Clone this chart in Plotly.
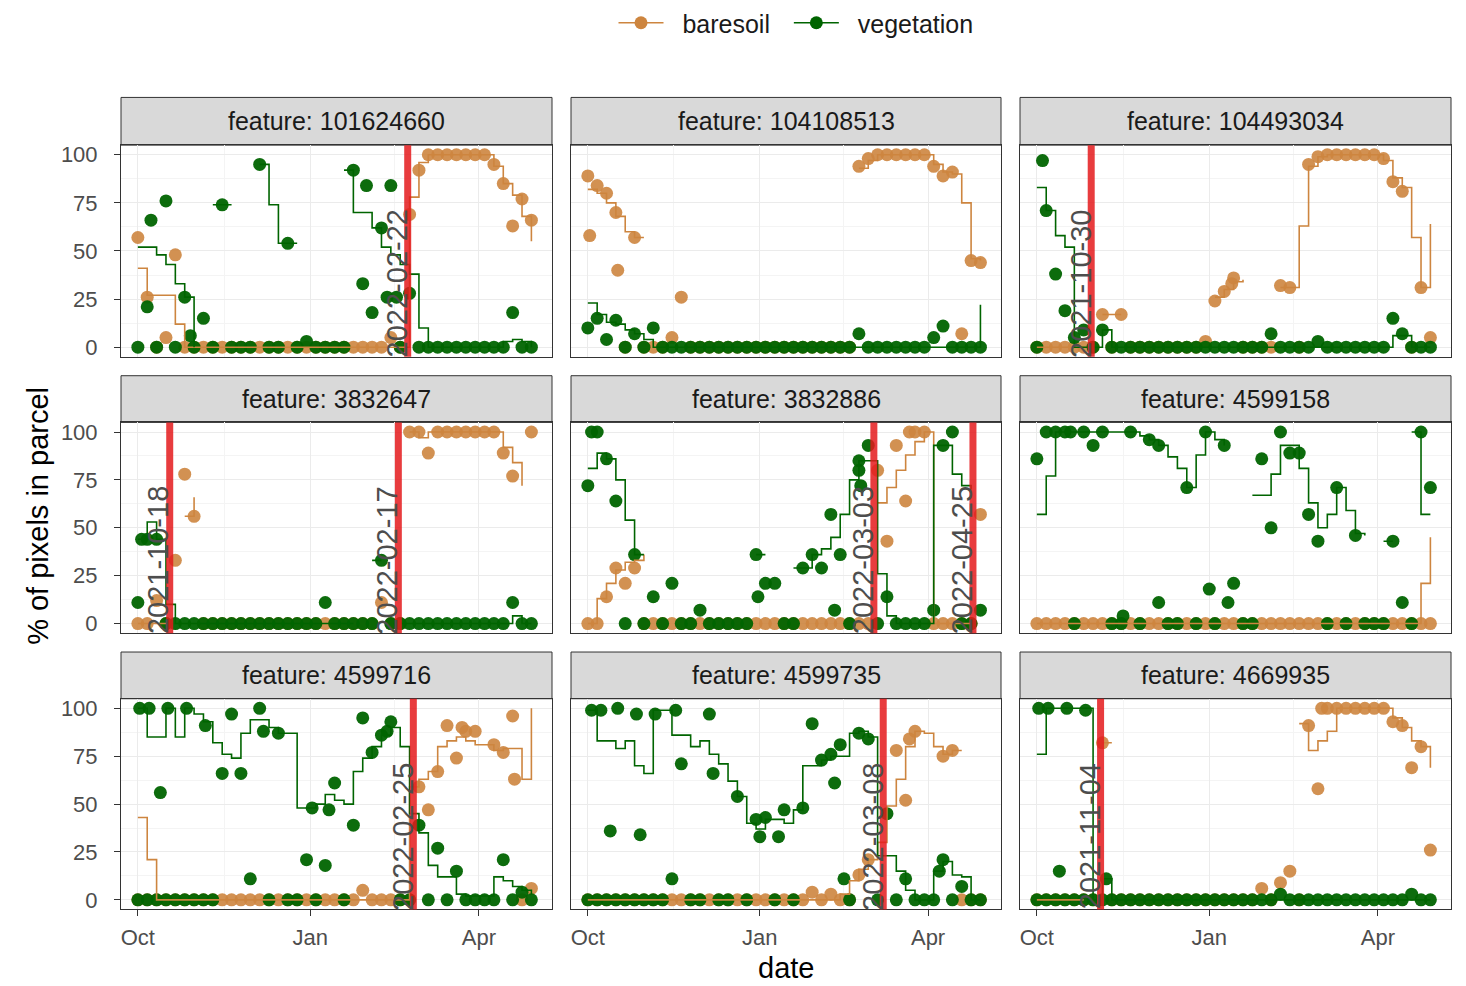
import pandas as pd
import plotly.graph_objects as go

N = None
START = "2021-10-01"
# acquisition grid: days since START
OBS_DAYS = [0, 5, 10, 15, 20, 25, 30, 35, 40, 45, 50, 55, 60, 65, 70, 75, 80, 85, 90, 95,
            100, 105, 110, 115, 120, 125, 130, 135, 140, 145, 150, 155, 160, 165, 170, 175,
            180, 185, 190, 195, 200, 205, 210]

FEATURES = ["101624660", "104108513", "104493034", "3832647", "3832886",
            "4599158", "4599716", "4599735", "4669935"]
SERIES_NAMES = ["baresoil", "vegetation"]

X_TICK_DATES = ["2021-10-01", "2022-01-01", "2022-04-01"]
X_TICK_LABELS = ["Oct", "Jan", "Apr"]
X_MINOR_DATES = ["2021-11-16", "2022-02-15"]
Y_TICKS = [0, 25, 50, 75, 100]
Y_MINOR = [12.5, 37.5, 62.5, 87.5]
X_RANGE = ["2021-09-22", "2022-05-10"]

# ---------- feature 101624660 ----------
BARE_1 = [57, 26, 0, 5, 48, 0, 0, 0, 0, 0, 0, 0, 0, 0, 0, 0, 0, 0, 0, 0,
          0, 0, 0, 0, 0, 0, 0, 5, 0, 69, 92, 100, 100, 100, 100, 100, 100, 100, 95, 85,
          63, 77, 66]
BARE_LINE_1 = [41, 27, 27, 27, 12, 0, 0, 0, 0, 0, 0, 0, 0, 0, 0, 0, 0, 0, 0, 0,
               0, 0, 0, 0, 0, 0, 0, 0, 0, 78, 96, 100, 100, 100, 100, 100, 100, 100, 94, 85,
               79, 68, 55]
BARE_X_DAYS_1, BARE_X_VALS_1 = [], []
VEG_1 = [0, 21, 0, 76, 0, 26, 0, 15, 0, 74, 0, 0, 0, 95, 0, 0, 54, 0, 3, 0,
         0, 0, 0, 92, 33, 18, 62, 84, 0, 28, 0, 0, 0, 0, 0, 0, 0, 0, 0, 0,
         18, 0, 0]
VEG_LINE_1 = [52, 52, 48, 43, 33, 26, 0, N, 74, 74, 74, N, N, 95, 74, 54, 54, 54, N, N,
              N, N, 92, 70, 70, 62, 52, 48, 43, 38, 10, 0, 0, 0, 0, 0, 0, 0, 0, 3,
              4, 3, 0]
VEG_X_DAYS_1 = [7, 122, 133, 138, 28]
VEG_X_VALS_1 = [66, 84, 26, 26, 6]
EVENTS_1 = ["2022-02-22"]

# ---------- feature 104108513 ----------
BARE_2 = [89, 84, 80, 70, 0, 57, 0, 0, 0, 5, 26, 0, 0, 0, 0, 0, 0, 0, 0, 0,
          0, 0, 0, 0, 0, 0, 0, 0, 0, 94, 98, 100, 100, 100, 100, 100, 100, 94, 89, 91,
          7, 45, 44]
BARE_LINE_2 = [82, 80, 75, 68, 60, 57, 57, N, N, N, N, N, N, N, N, N, N, N, N, N,
               N, N, N, N, N, N, N, N, N, 93, 97, 100, 100, 100, 100, 100, 100, 95, 91, 90,
               75, 46, 45]
BARE_X_DAYS_2 = [1, 16]
BARE_X_VALS_2 = [58, 40]
VEG_2 = [10, 15, 4, 14, 0, 7, 0, 10, 0, 0, 0, 0, 0, 0, 0, 0, 0, 0, 0, 0,
         0, 0, 0, 0, 0, 0, 0, 0, 0, 7, 0, 0, 0, 0, 0, 0, 0, 5, 11, 0,
         0, 0, 0]
VEG_LINE_2 = [23, 17, 13, 12, 9, 7, 4, 0, 0, 0, 0, 0, 0, 0, 0, 0, 0, 0, 0, 0,
              0, 0, 0, 0, 0, 0, 0, 0, 0, 0, 0, 0, 0, 0, 0, 0, 0, 0, 0, 0,
              0, 0, 22]
VEG_X_DAYS_2, VEG_X_VALS_2 = [], []
EVENTS_2 = []

# ---------- feature 104493034 ----------
BARE_3 = [0, 0, 0, 0, 0, 0, 0, 17, 0, 17, 0, 0, 0, 0, 0, 0, 0, 0, 3, 24,
          29, 36, 0, 0, 0, 0, 32, 31, 0, 95, 99, 100, 100, 100, 100, 100, 100, 98, 86, 81,
          0, 31, 5]
BARE_LINE_3 = [0, 0, 0, 0, 0, 0, N, 17, 17, 17, N, N, N, N, N, N, N, N, N, 26,
               30, 34, 35, N, N, N, 31, 31, 63, 94, 99, 100, 100, 100, 100, 100, 100, 97, 88, 83,
               57, 31, 64]
BARE_X_DAYS_3 = [104]
BARE_X_VALS_3 = [33]
VEG_3 = [0, 71, 38, 19, 5, 9, 0, 9, 0, 0, 0, 0, 0, 0, 0, 0, 0, 0, 0, 0,
         0, 0, 0, 0, 0, 7, 0, 0, 0, 0, 3, 0, 0, 0, 0, 0, 0, 0, 15, 7,
         0, 0, 0]
VEG_LINE_3 = [83, 71, 58, 52, 0, 0, 0, 9, 0, 0, 0, 0, 0, 0, 0, 0, 0, 0, 0, 0,
              0, 0, 0, 0, 0, 0, 0, 0, 0, 0, 0, 0, 0, 0, 0, 0, 0, 0, 6, 6,
              0, 0, 0]
VEG_X_DAYS_3 = [3]
VEG_X_VALS_3 = [97]
EVENTS_3 = ["2021-10-30"]

# ---------- feature 3832647 ----------
BARE_4 = [0, 0, 12, 0, 33, 78, 56, 0, 0, 0, 0, 0, 0, 0, 0, 0, 0, 0, 0, 0,
          0, 0, 0, 0, 0, 0, 11, 0, 0, 100, 100, 89, 100, 100, 100, 100, 100, 100, 100, 89,
          77, N, 100]
BARE_LINE_4 = [0, 0, 0, 0, N, 56, 66, N, N, N, N, N, N, N, N, N, N, N, N, N,
               N, N, N, N, N, N, N, N, N, 100, 97, 100, 100, 100, 100, 100, 100, 100, 100, 92,
               84, 72, N]
BARE_X_DAYS_4, BARE_X_VALS_4 = [], []
VEG_4 = [11, 44, 44, 0, 0, 0, 0, 0, 0, 0, 0, 0, 0, 0, 0, 0, 0, 0, 0, 0,
         11, 0, 0, 0, 0, 0, 33, 0, 0, 0, 0, 0, 0, 0, 0, 0, 0, 0, 0, 0,
         11, 0, 0]
VEG_LINE_4 = [44, 53, 44, 10, 0, 0, 0, 0, 0, 0, 0, 0, 0, 0, 0, 0, 0, 0, 0, 0,
              0, 0, 0, 0, N, 33, 33, N, 0, 0, 0, 0, 0, 0, 0, 0, 0, 0, 0, 0,
              4, 0, 0]
VEG_X_DAYS_4 = [2]
VEG_X_VALS_4 = [44]
EVENTS_4 = ["2021-10-18", "2022-02-17"]

# ---------- feature 3832886 ----------
BARE_5 = [0, 0, 14, 29, 21, 29, 0, 0, 0, 0, 0, 0, 0, 0, 0, 0, 0, 0, 0, 0,
          0, 0, 0, 0, 0, 0, 0, 0, 0, 0, 0, 80, 43, 93, 64, 100, 100, 0, 0, 0,
          0, 0, 57]
BARE_LINE_5 = [0, 13, 21, 28, 32, 33, 36, N, N, N, N, N, N, N, N, N, N, N, N, N,
               N, N, N, N, N, N, N, N, N, N, N, 63, 71, 80, 88, 95, 100, 0, 0, 0,
               0, 0, N]
BARE_X_DAYS_5 = [172]
BARE_X_VALS_5 = [100]
VEG_5 = [72, 100, 86, 64, 0, 36, 0, 14, 0, 21, 0, 0, 7, 0, 0, 0, 0, 0, 36, 21,
         21, 0, 0, 29, 36, 29, 57, 36, 0, 80, 93, 0, 14, 0, 0, 0, 0, 7, 93, 100,
         0, 0, 7]
VEG_LINE_5 = [81, 89, 86, 75, 54, 36, 36, N, N, N, N, N, N, N, N, N, N, N, 36, 36,
              N, N, 29, 29, 36, 39, 45, 57, 75, 85, 85, 26, 4, 0, 0, 0, 0, 93, 93, 78,
              72, 70, N]
VEG_X_DAYS_5 = [2, 91, 132, 145, 146]
VEG_X_VALS_5 = [100, 14, 7, 85, 72]
EVENTS_5 = ["2022-03-03", "2022-04-25"]

# ---------- feature 4599158 ----------
BARE_6 = [0, 0, 0, 0, 0, 0, 0, 0, 0, 0, 0, 0, 0, 0, 0, 0, 0, 0, 0, 0,
          0, 0, 0, 0, 0, 0, 0, 0, 0, 0, 0, 0, 0, 0, 0, 0, 0, 0, 0, 0,
          0, 0, 0]
BARE_LINE_6 = [0, 0, 0, 0, 0, 0, 0, 0, 0, 0, 0, 0, 0, 0, 0, 0, 0, 0, 0, 0,
               0, 0, 0, 0, 0, 0, 0, 0, 0, 0, 0, 0, 0, 0, 0, 0, 0, 0, 0, 0,
               0, 21, 45]
BARE_X_DAYS_6, BARE_X_VALS_6 = [], []
VEG_6 = [86, 100, 100, 100, 0, 100, 93, 100, 0, 0, 100, 0, 96, 93, 0, 0, 71, 0, 100, 0,
         93, 21, 0, 0, 86, 50, 100, 89, 89, 57, 43, 0, 71, 0, 46, 0, 0, 0, 43, 11,
         0, 100, 71]
VEG_LINE_6 = [57, 77, 100, 100, 100, 100, 100, 100, 100, 100, 100, 98, 96, 93, 87, 81, 71, 88, 100, 96,
              93, N, N, 67, 67, 78, 93, 93, 81, 63, 50, 57, 71, 59, 47, 46, N, 43, 43, N,
              100, 57, 57]
VEG_X_DAYS_6 = [18, 65, 92, 102, 46]
VEG_X_VALS_6 = [100, 11, 18, 11, 4]
EVENTS_6 = []

# ---------- feature 4599716 ----------
BARE_7 = [0, 0, 0, 0, 0, 0, 0, 0, 0, 0, 0, 0, 0, 0, 0, 0, 0, 0, 0, 0,
          0, 0, 0, 0, 5, 0, 0, 0, 0, 0, 59, 47, 67, 91, 74, 88, 88, N, 81, 77,
          96, 0, 6]
BARE_LINE_7 = [43, 21, 0, 0, 0, 0, 0, 0, 0, 0, 0, 0, 0, 0, 0, 0, 0, 0, 0, 0,
               0, 0, 0, 0, 0, 0, 0, 0, 0, 59, 63, 67, 80, 83, 85, 83, 81, 81, 78, 79,
               79, 63, 100]
BARE_X_DAYS_7 = [173, 201]
BARE_X_VALS_7 = [90, 63]
VEG_7 = [0, 0, 0, 0, 0, 0, 0, 0, 0, 66, 97, 66, 11, 100, 0, 87, 0, 0, 21, 0,
         18, 61, 0, 39, 95, 77, 86, 93, 0, 0, 39, 0, 27, 0, 15, 0, 0, 0, 0, 21,
         0, 4, 0]
VEG_LINE_7 = [100, 85, 85, 100, 85, 100, 97, 93, 82, 76, 74, 87, 94, 94, 90, 87, 87, 48, 48, 50,
              55, 52, 50, 67, 74, 80, 86, 90, 80, 45, 35, 18, 12, 12, 3, 2, 2, 2, 12, 10,
              7, 5, 3]
VEG_X_DAYS_7 = [1, 6, 12, 16, 26, 36, 67, 93, 102, 133]
VEG_X_VALS_7 = [100, 100, 56, 100, 100, 91, 88, 48, 47, 88]
EVENTS_7 = ["2022-02-25"]

# ---------- feature 4599735 ----------
BARE_8 = [0, 0, 0, 0, 0, 0, 0, 0, 0, 0, 0, 0, 0, 0, 0, 0, 0, 0, 0, 0,
          0, 0, 0, 0, 4, 0, 3, 0, 0, 13, 21, N, N, 78, 52, 88, N, N, 75, 78,
          0, 0, 0]
BARE_LINE_8 = [0, 0, 0, 0, 0, 0, 0, 0, 0, 0, 0, 0, 0, 0, 0, 0, 0, 0, 0, 0,
               0, 0, 0, 0, 0, 0, 0, 3, 10, 16, 21, 30, 49, 63, 80, 88, 87, 80, 76, 78,
               78, N, N]
BARE_X_DAYS_8 = [172]
BARE_X_VALS_8 = [84]
VEG_8 = [0, 0, 0, 0, 0, 0, 0, 0, 0, 11, 71, 0, 0, 97, 0, 0, 54, 0, 42, 43,
         0, 47, 0, 48, 92, 73, 76, 81, 0, 87, 84, 0, 45, 0, 11, 0, 0, 0, 21, 0,
         7, 0, 0]
VEG_LINE_8 = [99, 83, 83, 79, 83, 70, 66, 99, 99, 86, 86, 80, 83, 76, 71, 62, 54, 40, 37, 42,
              42, 40, 47, 70, 70, 73, 75, 75, 87, 88, 85, 23, 23, 15, 5, 0, 0, 15, 20, 13,
              12, 0, 0]
VEG_X_DAYS_8 = [2, 7, 12, 16, 26, 36, 28, 47, 67, 92, 102, 132, 137, 188]
VEG_X_VALS_8 = [99, 99, 36, 100, 97, 97, 34, 99, 66, 33, 33, 61, 11, 15]
EVENTS_8 = ["2022-03-08"]

# ---------- feature 4669935 ----------
BARE_9 = [0, 0, 0, 0, 0, 0, 0, 82, 0, 0, 0, 0, 0, 0, 0, 0, 0, 0, 0, 0,
          0, 0, 0, 0, 6, 0, 9, 15, 0, 91, 58, 100, 100, 100, 100, 100, 100, 100, 93, 91,
          69, 80, 26]
BARE_LINE_9 = [0, 0, 0, 0, 0, 0, N, 82, 82, N, N, N, N, N, N, N, N, N, N, N,
               N, N, N, N, N, N, N, N, 92, 78, 83, 88, 100, 100, 100, 100, 100, 100, 95, 90,
               83, 80, 69]
BARE_X_DAYS_9 = [152]
BARE_X_VALS_9 = [100]
VEG_9 = [0, 0, 0, 0, 0, 0, 0, 0, 0, 0, 0, 0, 0, 0, 0, 0, 0, 0, 0, 0,
         0, 0, 0, 0, 0, 0, 3, 0, 0, 0, 0, 0, 0, 0, 0, 0, 0, 0, 0, 0,
         3, 0, 0]
VEG_LINE_9 = [76, 100, 100, 100, 100, 100, 0, 11, 0, 0, 0, 0, 0, 0, 0, 0, 0, 0, 0, 0,
              0, 0, 0, 0, 0, 0, 0, 0, 0, 0, 0, 0, 0, 0, 0, 0, 0, 0, 0, 0,
              0, 0, 0]
VEG_X_DAYS_9 = [1, 6, 12, 16, 26, 37]
VEG_X_VALS_9 = [100, 100, 15, 100, 99, 11]
EVENTS_9 = ["2021-11-04"]

PANELS = [
    (BARE_1, BARE_LINE_1, BARE_X_DAYS_1, BARE_X_VALS_1, VEG_1, VEG_LINE_1, VEG_X_DAYS_1, VEG_X_VALS_1, EVENTS_1),
    (BARE_2, BARE_LINE_2, BARE_X_DAYS_2, BARE_X_VALS_2, VEG_2, VEG_LINE_2, VEG_X_DAYS_2, VEG_X_VALS_2, EVENTS_2),
    (BARE_3, BARE_LINE_3, BARE_X_DAYS_3, BARE_X_VALS_3, VEG_3, VEG_LINE_3, VEG_X_DAYS_3, VEG_X_VALS_3, EVENTS_3),
    (BARE_4, BARE_LINE_4, BARE_X_DAYS_4, BARE_X_VALS_4, VEG_4, VEG_LINE_4, VEG_X_DAYS_4, VEG_X_VALS_4, EVENTS_4),
    (BARE_5, BARE_LINE_5, BARE_X_DAYS_5, BARE_X_VALS_5, VEG_5, VEG_LINE_5, VEG_X_DAYS_5, VEG_X_VALS_5, EVENTS_5),
    (BARE_6, BARE_LINE_6, BARE_X_DAYS_6, BARE_X_VALS_6, VEG_6, VEG_LINE_6, VEG_X_DAYS_6, VEG_X_VALS_6, EVENTS_6),
    (BARE_7, BARE_LINE_7, BARE_X_DAYS_7, BARE_X_VALS_7, VEG_7, VEG_LINE_7, VEG_X_DAYS_7, VEG_X_VALS_7, EVENTS_7),
    (BARE_8, BARE_LINE_8, BARE_X_DAYS_8, BARE_X_VALS_8, VEG_8, VEG_LINE_8, VEG_X_DAYS_8, VEG_X_VALS_8, EVENTS_8),
    (BARE_9, BARE_LINE_9, BARE_X_DAYS_9, BARE_X_VALS_9, VEG_9, VEG_LINE_9, VEG_X_DAYS_9, VEG_X_VALS_9, EVENTS_9),
]

# ---------------- styling ----------------
BARE_COLOR = "#CD853F"
VEG_COLOR = "#006400"
EVENT_COLOR = "rgba(228,26,28,0.85)"
FONT = "Liberation Sans, Arial, sans-serif"
W, H = 1466, 986
COL_X = [(121, 552), (571, 1001), (1020, 1451)]
ROW_PLOT = [(143, 356), (422, 634), (700, 912)]
ROW_STRIP = [(95, 143), (375, 422), (653, 700)]
LABEL_Y = 33
MSIZE = 13

base = pd.Timestamp(START)


def to_dates(days):
    return [(base + pd.Timedelta(days=d)).strftime("%Y-%m-%d") for d in days]


obs_dates = to_dates(OBS_DAYS)

fig = go.Figure()
shapes = []
annotations = []
layout_axes = {}

for i, (bare, bare_line, bxd, bxv, veg, veg_line, vxd, vxv, events) in enumerate(PANELS):
    r, c = divmod(i, 3)
    n = "" if i == 0 else str(i + 1)
    xa, ya = "x" + n, "y" + n
    bx = obs_dates + to_dates(bxd)
    by = list(bare) + list(bxv)
    vx = obs_dates + to_dates(vxd)
    vy = list(veg) + list(vxv)
    fig.add_trace(go.Scatter(x=bx, y=by, mode="markers", xaxis=xa, yaxis=ya,
                             marker=dict(color=BARE_COLOR, size=MSIZE, opacity=0.9, line=dict(width=0)),
                             showlegend=False, hoverinfo="skip"))
    fig.add_trace(go.Scatter(x=vx, y=vy, mode="markers", xaxis=xa, yaxis=ya,
                             marker=dict(color=VEG_COLOR, size=MSIZE, opacity=0.95, line=dict(width=0)),
                             showlegend=False, hoverinfo="skip"))
    fig.add_trace(go.Scatter(x=obs_dates, y=bare_line, mode="lines", xaxis=xa, yaxis=ya,
                             line=dict(color=BARE_COLOR, width=1.6, shape="hv"),
                             connectgaps=False, showlegend=False, hoverinfo="skip"))
    fig.add_trace(go.Scatter(x=obs_dates, y=veg_line, mode="lines", xaxis=xa, yaxis=ya,
                             line=dict(color=VEG_COLOR, width=1.6, shape="hv"),
                             connectgaps=False, showlegend=False, hoverinfo="skip"))

    x0, x1 = COL_X[c]
    p0, p1 = ROW_PLOT[r]
    layout_axes["xaxis" + n] = dict(
        domain=[x0 / W, x1 / W], anchor=ya, type="date", range=X_RANGE,
        tickmode="array", tickvals=X_TICK_DATES, ticktext=X_TICK_LABELS,
        showticklabels=(r == 2), ticks="outside" if r == 2 else "", ticklen=6,
        tickcolor="#333333", tickwidth=1, ticklabelstandoff=2,
        tickfont=dict(size=22, color="#4D4D4D", family=FONT),
        showgrid=True, gridcolor="#EBEBEB", gridwidth=1,
        minor=dict(tickmode="array", tickvals=X_MINOR_DATES, showgrid=True,
                   gridcolor="#F4F4F4", gridwidth=0.8),
        showline=True, mirror=True, linecolor="#333333", linewidth=1, zeroline=False,
    )
    layout_axes["yaxis" + n] = dict(
        domain=[1 - p1 / H, 1 - p0 / H], anchor=xa, range=[-5, 105],
        tickmode="array", tickvals=Y_TICKS,
        showticklabels=(c == 0), ticks="outside" if c == 0 else "", ticklen=6,
        tickcolor="#333333", tickwidth=1, ticklabelstandoff=12,
        tickfont=dict(size=22, color="#4D4D4D", family=FONT),
        showgrid=True, gridcolor="#EBEBEB", gridwidth=1,
        minor=dict(tickmode="array", tickvals=Y_MINOR, showgrid=True,
                   gridcolor="#F4F4F4", gridwidth=0.8),
        showline=True, mirror=True, linecolor="#333333", linewidth=1, zeroline=False,
    )

    s0, s1 = ROW_STRIP[r]
    shapes.append(dict(type="rect", xref="paper", yref="paper",
                       x0=x0 / W, x1=x1 / W, y0=1 - s1 / H, y1=1 - s0 / H,
                       fillcolor="#D9D9D9", line=dict(color="#333333", width=1), layer="below"))
    annotations.append(dict(text="feature: " + FEATURES[i], xref="paper", yref="paper",
                            x=(x0 + x1) / 2 / W, y=1 - (s0 + s1) / 2 / H,
                            xanchor="center", yanchor="middle", showarrow=False,
                            font=dict(size=25, color="#1A1A1A", family=FONT)))

    for ev in events:
        shapes.append(dict(type="line", xref=xa, yref=ya + " domain", x0=ev, x1=ev, y0=0, y1=1,
                           line=dict(color=EVENT_COLOR, width=7), layer="above"))
        annotations.append(dict(text=ev, xref=xa, yref=ya, x=ev, y=LABEL_Y,
                                textangle=-90, xanchor="center", yanchor="middle",
                                xshift=-11, showarrow=False,
                                font=dict(size=29, color="#4D4D4D", family=FONT)))

# legend entries
PAD = "\u00a0\u00a0"
LEGEND_LABELS = [PAD + SERIES_NAMES[0] + PAD, PAD + SERIES_NAMES[1]]
for name, col in zip(LEGEND_LABELS, [BARE_COLOR, VEG_COLOR]):
    fig.add_trace(go.Scatter(x=[None], y=[None], mode="lines+markers", name=name,
                             marker=dict(color=col, size=MSIZE),
                             line=dict(color=col, width=1.6)))

annotations.append(dict(text="% of pixels in parcel", xref="paper", yref="paper",
                        x=38 / W, y=1 - 516 / H, textangle=-90, showarrow=False,
                        xanchor="center", yanchor="middle",
                        font=dict(size=29, color="#000000", family=FONT)))
annotations.append(dict(text="date", xref="paper", yref="paper",
                        x=786 / W, y=1 - 971 / H, showarrow=False,
                        xanchor="center", yanchor="middle",
                        font=dict(size=29, color="#000000", family=FONT)))

fig.update_layout(
    width=W, height=H, autosize=False,
    margin=dict(l=0, r=0, t=0, b=0),
    paper_bgcolor="white", plot_bgcolor="white",
    font=dict(family=FONT, color="#1A1A1A"),
    shapes=shapes, annotations=annotations,
    legend=dict(orientation="h", x=796 / W, y=1 - 20 / H, xanchor="center", yanchor="middle",
                font=dict(size=25, color="#1A1A1A", family=FONT), bgcolor="rgba(0,0,0,0)",
                itemwidth=45),
    **layout_axes,
)

fig.write_html("out.html", config={"displayModeBar": False},
               post_script="document.body.style.margin='0';document.body.style.overflow='hidden';")
